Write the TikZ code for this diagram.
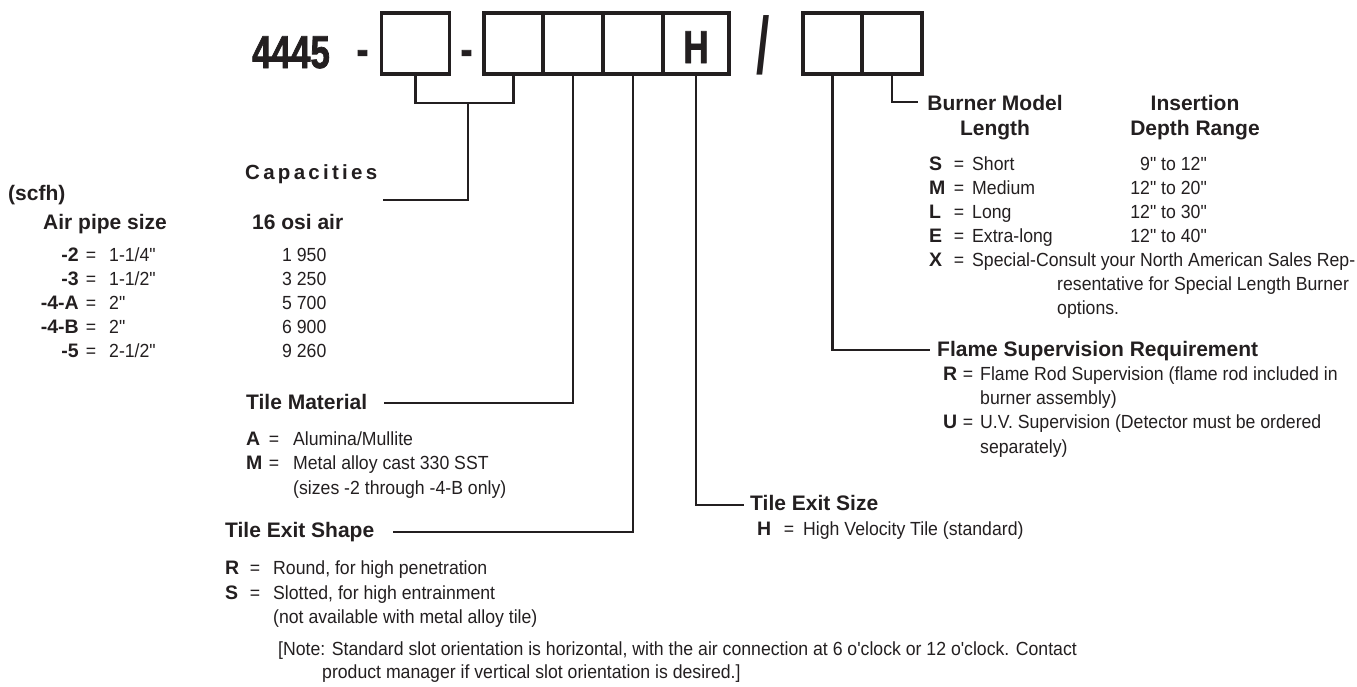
\documentclass[tikz,border=0pt]{standalone}
\usepackage{fontspec}
\setmainfont{Liberation Sans}
\newfontfamily\narrowfont[FakeStretch=0.93]{Liberation Sans}
\newfontfamily\bigfont[FakeStretch=0.76, FakeBold=1.6]{Liberation Sans}
\newfontfamily\slashfont[FakeStretch=0.6]{Liberation Sans}
\usetikzlibrary{positioning}
\definecolor{ink}{RGB}{35,31,32}

\tikzset{
  cell/.style={draw, line width=3.2pt, inner sep=0pt, minimum height=61pt, minimum width=#1},
  wire/.style={line width=2.3pt},
  big/.style={anchor=base, inner sep=0pt, font=\bigfont\fontsize{46}{46}\selectfont\bfseries},
  head/.style={anchor=base west, inner sep=0pt, font=\fontsize{21}{24}\selectfont\bfseries},
  txt/.style={anchor=base west, inner sep=0pt, font=\narrowfont\fontsize{19}{23}\selectfont},
  key/.style={anchor=base west, inner sep=0pt, font=\fontsize{19.5}{23}\selectfont\bfseries},
  eq/.style={anchor=base, inner sep=0pt, font=\narrowfont\fontsize{19}{23}\selectfont}
}

\begin{document}
\begin{tikzpicture}[x=1pt, y=-1pt, color=ink]
  \useasboundingbox (0,0) rectangle (1357,686);
  % gap between two list rows
  \def\rowgap{24}

  % the model code
  \node[big] (num) at (291,68) {4445};
  \node[big] (dashA) at (362.5,65) {-};
  \node[big] (dashB) at (466.5,65) {-};
  \node[cell=68pt] (cA) at (415.5,43.5) {};
  \node[cell=59pt] (cB1) at (513.5,43.5) {};
  \node[cell=60pt] (cB2) at (573,43.5) {};
  \node[cell=60pt] (cB3) at (633,43.5) {};
  \node[cell=66pt, font=\bigfont\fontsize{46}{46}\selectfont\bfseries, text height=39pt, text depth=0pt] (cB4) at (696,43.5) {H};
  \node[anchor=base, inner sep=0pt, font=\slashfont\fontsize{80}{80}\selectfont\bfseries] (slash) at (763,73) {/};
  \node[cell=59pt] (cC1) at (832.5,43.5) {};
  \node[cell=60pt] (cC2) at (892,43.5) {};

  % leader lines
  \coordinate (capK) at (468,103);
  \coordinate (capE) at (383,200);
  \coordinate (matE) at (384,403);
  \coordinate (shpE) at (393,532);
  \coordinate (sizE) at (744,505);
  \coordinate (flmE) at (930,350);
  \coordinate (lenE) at (918,102);
  \draw[wire] (cA.south) |- (capK) -| (cB1.south);
  \draw[wire] (capK) |- (capE);
  \draw[wire] (cB2.south) |- (matE);
  \draw[wire] (cB3.south) |- (shpE);
  \draw[wire] (cB4.south) |- (sizE);
  \draw[wire] (cC1.south) |- (flmE);
  \draw[wire] (cC2.south) |- (lenE);

  % capacities
  \node[head, font=\fontsize{20.5}{24}\selectfont\bfseries\addfontfeatures{LetterSpace=16}] (hCap) at (245,179) {Capacities};
  \node[head] (hScfh) at (8,200) {(scfh)};
  \node[head] (hPipe) at (43,229) {Air pipe size};
  \node[head] (hAir) at (252,229) {16 osi air};
  \foreach \code/\size/\flow [count=\i from 0] in {-2/{1-1/4"}/1 950, -3/{1-1/2"}/3 250, -4-A/2"/5 700, -4-B/2"/6 900, -5/{2-1/2"}/9 260} {
    \node[key, anchor=base east] (pc\i) at (79,261+\rowgap*\i) {\code};
    \node[eq] (pe\i) at (91,261+\rowgap*\i) {=};
    \node[txt] (ps\i) at (109,261+\rowgap*\i) {\size};
    \node[txt] (pf\i) at (282,261+\rowgap*\i) {\flow};
  }

  % tile material
  \node[head] (hMat) at (246,409) {Tile Material};
  \node[key] (mA) at (246,445) {A};
  \node[eq] (mAe) at (274,445) {=};
  \node[txt] (mAt) at (293,445) {Alumina/Mullite};
  \node[key] (mM) at (246,469) {M};
  \node[eq] (mMe) at (274,469) {=};
  \node[txt] (mMt) at (293,469) {Metal alloy cast 330 SST};
  \node[txt] (mMs) at (293,494) {(sizes -2 through -4-B only)};

  % tile exit shape
  \node[head] (hShp) at (225,537) {Tile Exit Shape};
  \node[key] (sR) at (225,574) {R};
  \node[eq] (sRe) at (255,574) {=};
  \node[txt] (sRt) at (273,574) {Round, for high penetration};
  \node[key] (sS) at (225,599) {S};
  \node[eq] (sSe) at (255,599) {=};
  \node[txt] (sSt) at (273,599) {Slotted, for high entrainment};
  \node[txt] (sSn) at (273,623) {(not available with metal alloy tile)};
  \node[txt] (note1) at (278,655) {[Note: Standard slot orientation is horizontal, with the air connection at 6 o'clock or 12 o'clock. Contact};
  \node[txt] (note2) at (322,678) {product manager if vertical slot orientation is desired.]};

  % tile exit size
  \node[head] (hSiz) at (750,510) {Tile Exit Size};
  \node[key] (zH) at (757,535) {H};
  \node[eq] (zHe) at (789,535) {=};
  \node[txt] (zHt) at (803,535) {High Velocity Tile (standard)};

  % flame supervision
  \node[head] (hFlm) at (937,356) {Flame Supervision Requirement};
  \node[key] (fR) at (943,380) {R};
  \node[eq] (fRe) at (968,380) {=};
  \node[txt] (fRt) at (980,380) {Flame Rod Supervision (flame rod included in};
  \node[txt] (fRc) at (980,404) {burner assembly)};
  \node[key] (fU) at (943,428) {U};
  \node[eq] (fUe) at (968,428) {=};
  \node[txt] (fUt) at (980,428) {U.V. Supervision (Detector must be ordered};
  \node[txt] (fUc) at (980,453) {separately)};

  % burner length
  \node[head, anchor=base] (hLen) at (995,110) {Burner Model};
  \node[head, anchor=base] (hLen2) at (995,135) {Length};
  \node[head, anchor=base] (hDep) at (1195,110) {Insertion};
  \node[head, anchor=base] (hDep2) at (1195,135) {Depth Range};
  \foreach \k/\name/\depth [count=\i from 0] in {S/Short/{9" to 12"}, M/Medium/{12" to 20"}, L/Long/{12" to 30"}, E/Extra-long/{12" to 40"}} {
    \node[key] (bk\i) at (929,170+\rowgap*\i) {\k};
    \node[eq] (be\i) at (959,170+\rowgap*\i) {=};
    \node[txt] (bn\i) at (972,170+\rowgap*\i) {\name};
    \node[txt, anchor=base east] (bd\i) at (1207,170+\rowgap*\i) {\depth};
  }
  \node[key] (bX) at (929,266) {X};
  \node[eq] (bXe) at (959,266) {=};
  \node[txt] (bXt) at (972,266) {Special-Consult your North American Sales Rep-};
  \node[txt] (bXc) at (1057,290) {resentative for Special Length Burner};
  \node[txt] (bXo) at (1057,314) {options.};
\end{tikzpicture}
\end{document}
